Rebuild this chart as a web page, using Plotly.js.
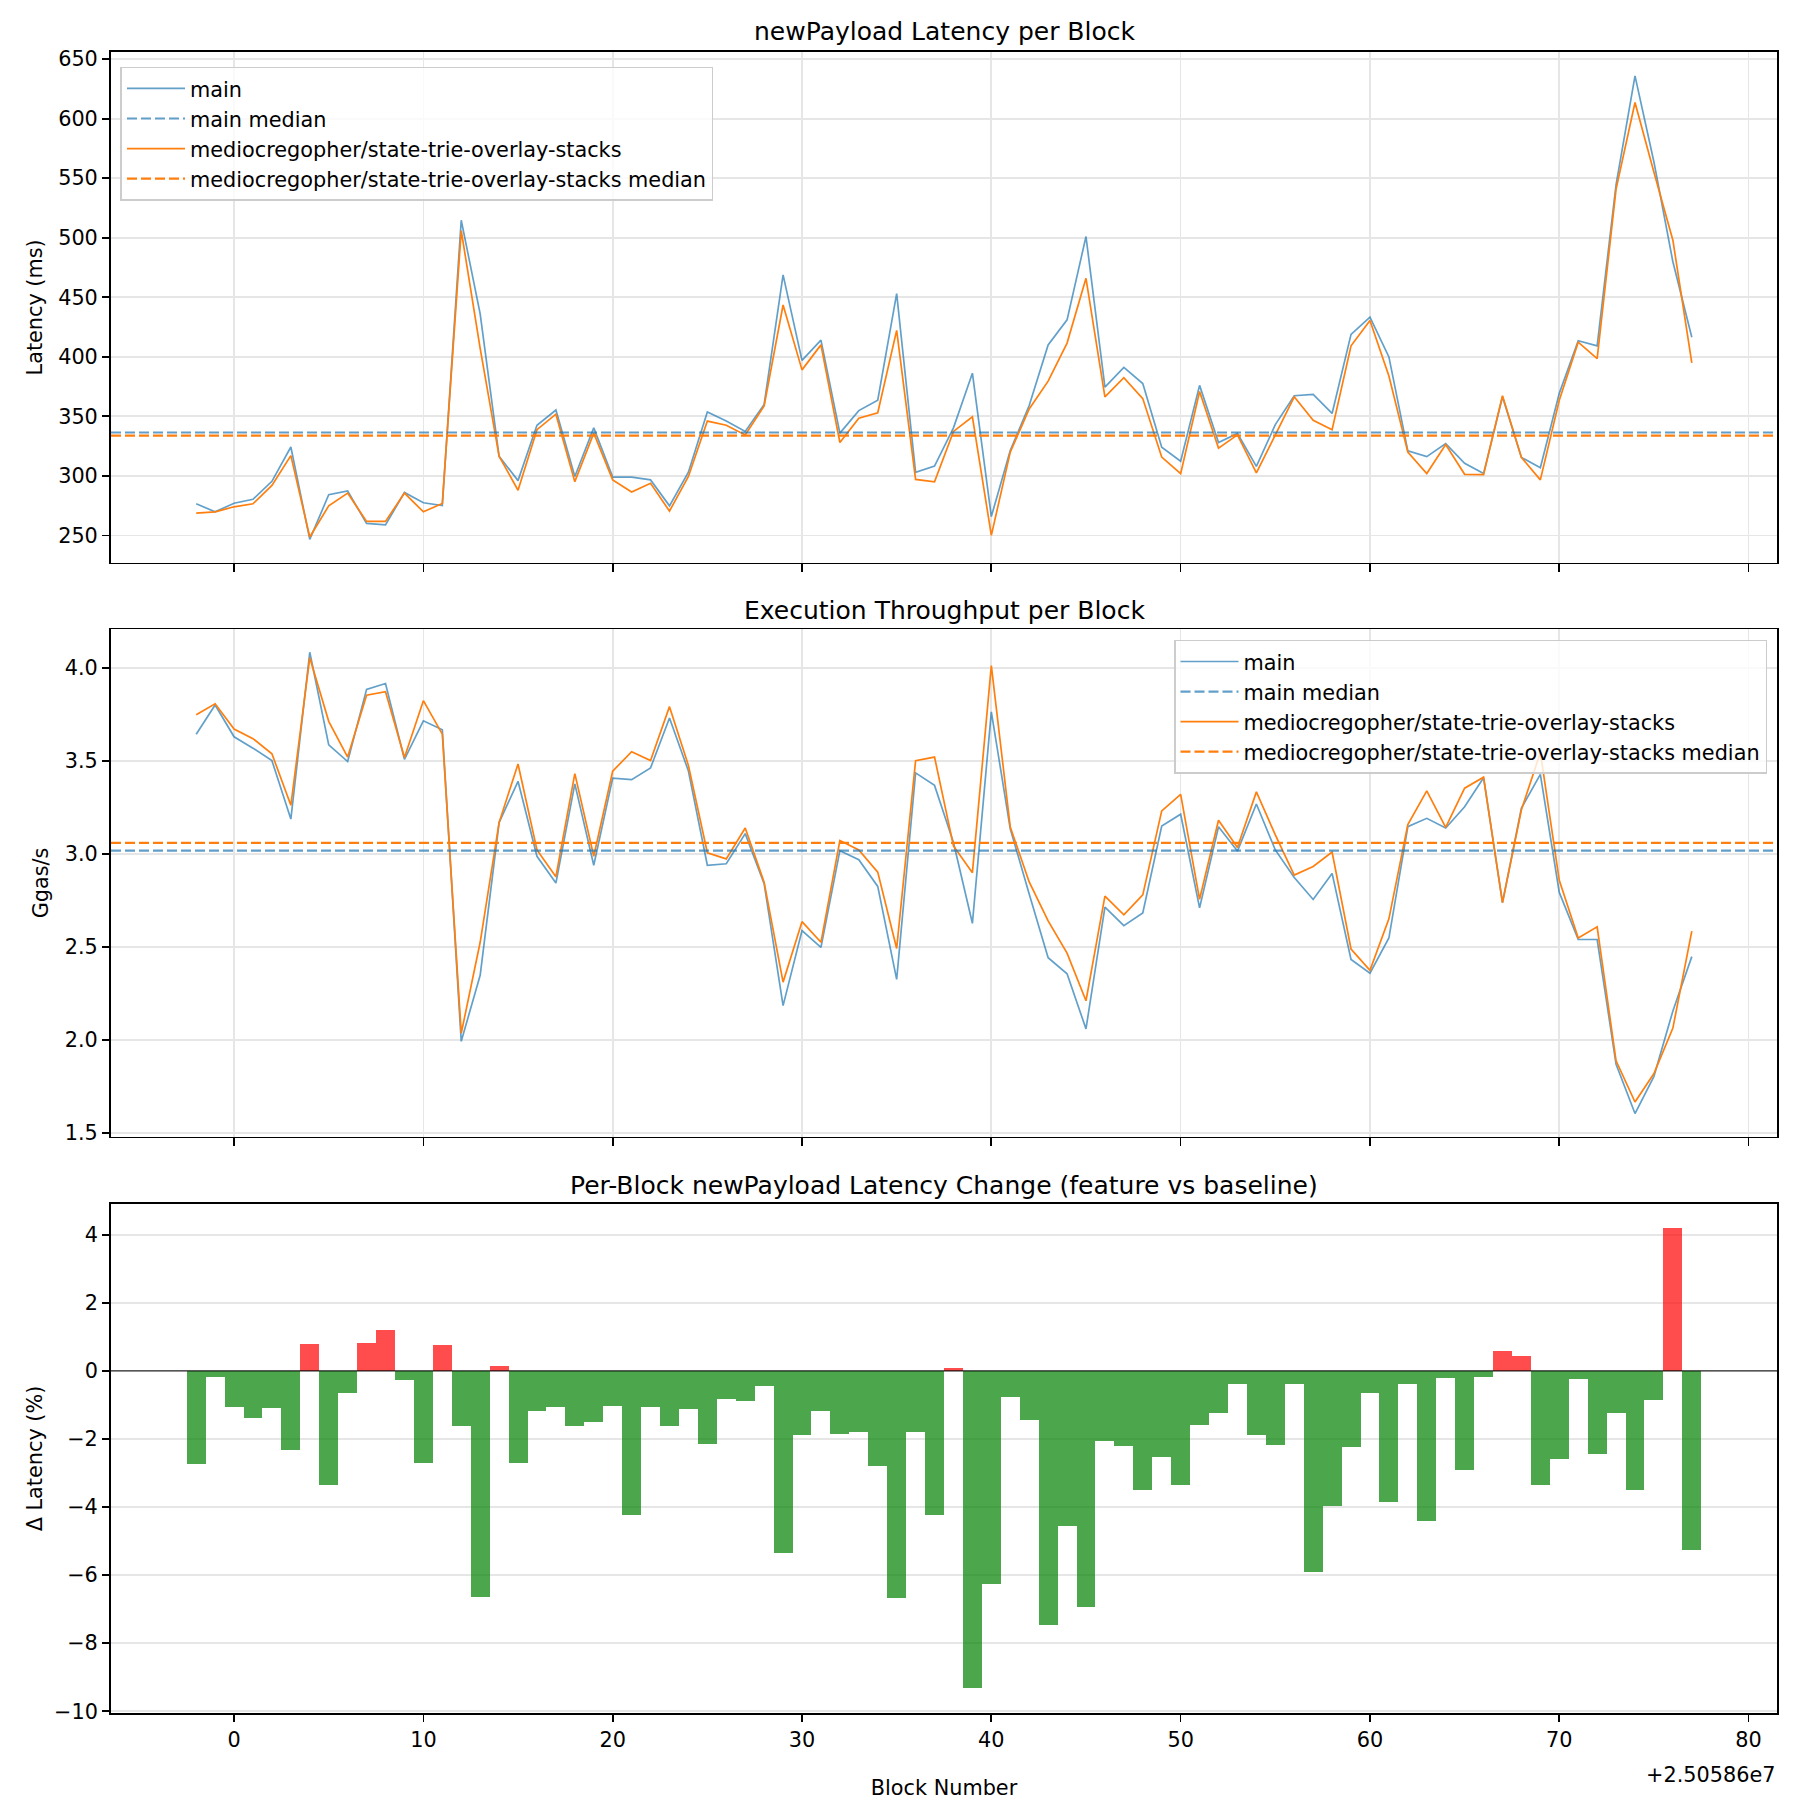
<!DOCTYPE html>
<html><head><meta charset="utf-8">
<script src="https://cdn.plot.ly/plotly-3.0.1.min.js"></script>
<style>body{margin:0;background:#fff}</style>
</head><body><div id="chart" style="width:1800px;height:1800px"></div>
<script>
const blockBase = 25058600;
const blockOffsets = [-2,-1,0,1,2,3,4,5,6,7,8,9,10,11,12,13,14,15,16,17,18,19,20,21,22,23,24,25,26,27,28,29,30,31,32,33,34,35,36,37,38,39,40,41,42,43,44,45,46,47,48,49,50,51,52,53,54,55,56,57,58,59,60,61,62,63,64,65,66,67,68,69,70,71,72,73,74,75,76,77];
const latencyMain = [276.5,269.8,277,280.3,295.4,324.2,246.6,284.1,287.3,260,258.8,286,277.4,275,514.7,436,316.4,296,342.5,355.3,299.5,340.3,298.9,298.9,296.6,274.8,303,353.6,346,337.3,360,468.8,397,414,335.9,354.8,363.5,453,303,308.2,340.3,386.2,265.8,321.3,359.1,410,431,501,374.5,391.1,377.5,324,312.3,376,328,335.6,308,343,367.3,368.4,352.4,418.8,433.3,399.9,321,316.1,327.1,310.6,301.9,366.4,315.5,306.8,369.3,413.5,409.2,544.7,636,563.6,479.8,416.4];
const latencyFeature = [268.7,269.8,274,276.5,292,317,248.6,274.8,285.5,261.7,261.7,285.5,269.8,276.8,506,407,316.4,287.9,338.8,351.8,295.1,335.9,296.6,286.4,293.7,270.4,299.5,346,342.5,334.4,358.8,443.5,389,410,328,348.4,353,422.2,297,294.9,337.3,349.6,250,319.9,356.2,379.5,411.5,465.9,366.4,382.4,364.9,315.8,301.9,370.8,323.3,334.4,302.4,334,366.4,346.6,338.8,409.2,430.4,383.8,319.9,301.9,326.2,301.3,301,367.3,315.5,296.6,363.5,412.3,398.4,540.9,613.6,555,497.9,394.9];
const throughputMain = [3.643,3.80,3.629,3.568,3.501,3.187,4.083,3.586,3.496,3.884,3.915,3.508,3.715,3.667,1.993,2.348,3.168,3.390,2.987,2.843,3.376,2.939,3.407,3.399,3.462,3.730,3.445,2.939,2.947,3.109,2.84,2.185,2.588,2.498,3.017,2.969,2.825,2.326,3.435,3.368,3.061,2.627,3.763,3.135,2.784,2.442,2.356,2.060,2.714,2.614,2.683,3.150,3.213,2.710,3.146,3.015,3.268,3.021,2.873,2.755,2.895,2.433,2.359,2.548,3.146,3.191,3.139,3.253,3.409,2.738,3.246,3.427,2.793,2.54,2.54,1.870,1.605,1.805,2.156,2.448];
const throughputFeature = [3.747,3.806,3.671,3.619,3.538,3.261,4.054,3.712,3.520,3.852,3.871,3.518,3.823,3.643,2.036,2.525,3.168,3.483,3.021,2.877,3.431,2.987,3.444,3.549,3.501,3.791,3.475,3.006,2.973,3.139,2.847,2.311,2.636,2.525,3.072,3.021,2.902,2.492,3.501,3.520,3.043,2.899,4.011,3.144,2.849,2.640,2.467,2.211,2.773,2.673,2.780,3.231,3.320,2.756,3.181,3.034,3.333,3.102,2.886,2.932,3.010,2.489,2.374,2.651,3.157,3.338,3.142,3.353,3.412,2.738,3.237,3.545,2.858,2.548,2.608,1.888,1.667,1.820,2.064,2.585];
const latencyChangePct = [-2.75,-0.18,-1.06,-1.39,-1.10,-2.33,0.78,-3.36,-0.66,0.81,1.19,-0.28,-2.71,0.75,-1.63,-6.65,0.13,-2.71,-1.17,-1.05,-1.63,-1.50,-1.02,-4.22,-1.05,-1.63,-1.13,-2.16,-0.84,-0.89,-0.43,-5.36,-1.89,-1.17,-1.86,-1.79,-2.80,-6.68,-1.79,-4.24,0.07,-9.33,-6.25,-0.77,-1.43,-7.46,-4.57,-6.94,-2.05,-2.22,-3.49,-2.53,-3.34,-1.58,-1.25,-0.40,-1.87,-2.19,-0.40,-5.92,-3.96,-2.25,-0.64,-3.84,-0.38,-4.42,-0.20,-2.90,-0.17,0.58,0.44,-3.36,-2.58,-0.25,-2.43,-1.23,-3.51,-0.87,4.21,-5.25];
const latencyMedianMain = 336.4;
const latencyMedianFeature = 333.8;
const throughputMedianMain = 3.017;
const throughputMedianFeature = 3.059;
const xTickOffsets = [0,10,20,30,40,50,60,70,80];
const xTickLabels = ["0","10","20","30","40","50","60","70","80"];
const mainName = "main";
const featureName = "mediocregopher/state-trie-overlay-stacks";

const blocks = blockOffsets.map(o => blockBase + o);
const tickVals = xTickOffsets.map(o => blockBase + o);
const xRange = [blockBase - 6.5, blockBase + 81.5];

const FONT = "DejaVu Sans, sans-serif";
const FS = 20.8;
const TFS = 25;
const BLUE = "#1f77b4", ORANGE = "#ff7f0e";
const GRID = "#e6e6e6";
const AXW = 1.67, TL = 7.3;

function xAxis(extra) {
  return Object.assign({
    range: xRange, tickmode: "array", tickvals: tickVals, ticktext: xTickLabels,
    showline: true, linecolor: "#000", linewidth: AXW, mirror: true,
    ticks: "outside", ticklen: TL, tickwidth: AXW, tickcolor: "#000",
    showgrid: true, gridcolor: GRID, gridwidth: AXW, zeroline: false,
    tickfont: {size: FS, color: "#000", family: FONT}
  }, extra);
}
function yAxis(extra) {
  return Object.assign({
    showline: true, linecolor: "#000", linewidth: AXW, mirror: true,
    ticks: "outside", ticklen: TL, tickwidth: AXW, tickcolor: "#000",
    showgrid: true, gridcolor: GRID, gridwidth: AXW, zeroline: false,
    tickfont: {size: FS, color: "#000", family: FONT}
  }, extra);
}

const traces = [
  {type: "scatter", mode: "lines", x: blocks, y: latencyMain, name: mainName, xaxis: "x", yaxis: "y",
   line: {color: BLUE, width: 1.7}, opacity: 0.7, legend: "legend", legendrank: 1},
  {type: "scatter", mode: "lines", x: blocks, y: latencyFeature, name: featureName, xaxis: "x", yaxis: "y",
   line: {color: ORANGE, width: 1.7}, legend: "legend", legendrank: 3},
  {type: "scatter", mode: "lines", x: blocks, y: throughputMain, name: mainName, xaxis: "x2", yaxis: "y2",
   line: {color: BLUE, width: 1.7}, opacity: 0.7, legend: "legend2", legendrank: 1},
  {type: "scatter", mode: "lines", x: blocks, y: throughputFeature, name: featureName, xaxis: "x2", yaxis: "y2",
   line: {color: ORANGE, width: 1.7}, legend: "legend2", legendrank: 3},
  {type: "bar", x: blocks, y: latencyChangePct, xaxis: "x3", yaxis: "y3", width: 1, showlegend: false,
   marker: {color: latencyChangePct.map(v => v > 0 ? "rgba(255,0,0,0.7)" : "rgba(0,128,0,0.7)"), line: {width: 0}}}
];

function medianShape(xref, yref, val, color, name, legend, rank, op) {
  return {type: "line", xref: xref + " domain", x0: 0, x1: 1, yref: yref, y0: val, y1: val,
    line: {color: color, width: 2.2, dash: "10px,4px"}, opacity: op, layer: "above",
    showlegend: true, name: name, legend: legend, legendrank: rank};
}

const shapes = [
  medianShape("x", "y", latencyMedianMain, BLUE, mainName + " median", "legend", 2, 0.7),
  medianShape("x", "y", latencyMedianFeature, ORANGE, featureName + " median", "legend", 4, 1),
  medianShape("x2", "y2", throughputMedianMain, BLUE, mainName + " median", "legend2", 2, 0.7),
  medianShape("x2", "y2", throughputMedianFeature, ORANGE, featureName + " median", "legend2", 4, 1),
  {type: "line", xref: "x3 domain", x0: 0, x1: 1, yref: "y3", y0: 0, y1: 0, line: {color: "#000", width: 1}, layer: "above"}
];

const dTop = [0.6925, 1.0], dMid = [0.347, 0.6525], dBot = [0, 0.3064];
const legendStyle = {bgcolor: "rgba(255,255,255,0.8)", bordercolor: "#cccccc", borderwidth: 1.5,
  font: {size: FS, color: "#000", family: FONT}, traceorder: "normal", itemwidth: 58};

function titleAnn(text, ytop, shift) {
  return {text: text, xref: "paper", yref: "paper", x: 0.5, y: ytop, xanchor: "center", yanchor: "middle",
    yshift: shift, showarrow: false, font: {size: TFS, color: "#000", family: FONT}};
}

const layout = {
  width: 1800, height: 1800,
  margin: {l: 111, r: 23, t: 52, b: 87},
  paper_bgcolor: "#fff", plot_bgcolor: "#fff",
  font: {family: FONT, size: FS, color: "#000"},
  bargap: 0,
  xaxis: xAxis({domain: [0, 1], anchor: "y", matches: "x3", showticklabels: false}),
  xaxis2: xAxis({domain: [0, 1], anchor: "y2", matches: "x3", showticklabels: false}),
  xaxis3: xAxis({domain: [0, 1], anchor: "y3", showgrid: false,
    title: {text: "Block Number", font: {size: FS, color: "#000", family: FONT}, standoff: 56}}),
  yaxis: yAxis({domain: dTop, anchor: "x", range: [227, 656], tickmode: "array",
    tickvals: [250,300,350,400,450,500,550,600,650],
    title: {text: "Latency (ms)", font: {size: FS, color: "#000", family: FONT}, standoff: 10}}),
  yaxis2: yAxis({domain: dMid, anchor: "x2", range: [1.481, 4.207], tickmode: "array",
    tickvals: [1.5,2.0,2.5,3.0,3.5,4.0], ticktext: ["1.5","2.0","2.5","3.0","3.5","4.0"],
    title: {text: "Ggas/s", font: {size: FS, color: "#000", family: FONT}, standoff: 10}}),
  yaxis3: yAxis({domain: dBot, anchor: "x3", range: [-10.05, 4.9], tickmode: "array",
    tickvals: [-10,-8,-6,-4,-2,0,2,4],
    title: {text: "Δ Latency (%)", font: {size: FS, color: "#000", family: FONT}, standoff: 6}}),
  legend: Object.assign({x: 0.0057, y: 0.991, xanchor: "left", yanchor: "top"}, legendStyle),
  legend2: Object.assign({x: 0.994, y: 0.646, xanchor: "right", yanchor: "top"}, legendStyle),
  shapes: shapes,
  annotations: [
    titleAnn("newPayload Latency per Block", dTop[1], 21),
    titleAnn("Execution Throughput per Block", dMid[1], 19),
    titleAnn("Per-Block newPayload Latency Change (feature vs baseline)", dBot[1], 19),
    {text: "+2.50586e7", xref: "paper", yref: "paper", x: 1, y: 0, xanchor: "right", yanchor: "middle",
     yshift: -62, showarrow: false, font: {size: FS, color: "#000", family: FONT}}
  ]
};

Plotly.newPlot("chart", traces, layout, {displayModeBar: false, staticPlot: true});
</script>
</body></html>
